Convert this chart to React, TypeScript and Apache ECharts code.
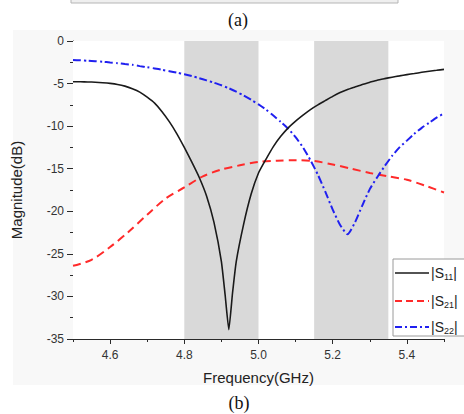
import React, { useEffect, useRef } from "react";
import * as echarts from "echarts";

// |S11| (black solid)
const s11Freq = [4.5, 4.52, 4.54, 4.56, 4.58, 4.6, 4.62, 4.64, 4.66, 4.68, 4.7, 4.72, 4.74, 4.76, 4.78, 4.8, 4.82, 4.84, 4.86, 4.88, 4.9, 4.91, 4.92, 4.93, 4.94, 4.96, 4.98, 5.0, 5.02, 5.04, 5.06, 5.08, 5.1, 5.12, 5.14, 5.16, 5.18, 5.2, 5.22, 5.24, 5.26, 5.28, 5.3, 5.32, 5.34, 5.36, 5.38, 5.4, 5.42, 5.44, 5.46, 5.48, 5.5];
const s11Mag = [-4.78, -4.79, -4.81, -4.84, -4.9, -4.98, -5.1, -5.3, -5.6, -6.0, -6.6, -7.3, -8.3, -9.5, -10.9, -12.5, -14.2, -16.0, -18.2, -21.3, -25.9, -29.8, -33.9, -29.6, -25.9, -21.5, -18.0, -15.5, -13.9, -12.4, -11.2, -10.2, -9.4, -8.7, -8.05, -7.5, -7.0, -6.5, -6.05, -5.7, -5.4, -5.1, -4.85, -4.6, -4.42, -4.25, -4.1, -3.95, -3.82, -3.68, -3.55, -3.44, -3.33];

// |S21| (red dashed)
const s21Freq = [4.5, 4.55, 4.6, 4.65, 4.7, 4.75, 4.8, 4.85, 4.9, 4.95, 5.0, 5.05, 5.1, 5.15, 5.2, 5.25, 5.3, 5.35, 5.4, 5.45, 5.5];
const s21Mag = [-26.4, -25.7, -24.2, -22.4, -20.4, -18.5, -17.2, -15.9, -15.1, -14.6, -14.2, -14.05, -14.0, -14.1, -14.5, -15.0, -15.5, -15.9, -16.3, -17.0, -17.8];

// |S22| (blue dash-dot)
const s22Freq = [4.5, 4.52, 4.54, 4.56, 4.58, 4.6, 4.62, 4.64, 4.66, 4.68, 4.7, 4.72, 4.74, 4.76, 4.78, 4.8, 4.82, 4.84, 4.86, 4.88, 4.9, 4.92, 4.94, 4.96, 4.98, 5.0, 5.02, 5.04, 5.06, 5.08, 5.1, 5.12, 5.14, 5.16, 5.18, 5.2, 5.22, 5.24, 5.26, 5.28, 5.3, 5.32, 5.34, 5.36, 5.38, 5.4, 5.42, 5.44, 5.46, 5.48, 5.5];
const s22Mag = [-2.23, -2.27, -2.32, -2.38, -2.44, -2.52, -2.6, -2.7, -2.8, -2.95, -3.08, -3.22, -3.38, -3.55, -3.72, -3.9, -4.12, -4.36, -4.62, -4.9, -5.2, -5.55, -5.95, -6.4, -6.9, -7.45, -8.05, -8.75, -9.5, -10.3, -11.3, -12.5, -14.0, -15.7, -17.7, -19.8, -21.6, -22.7, -21.3, -19.3, -17.4, -16.0, -14.7, -13.5, -12.5, -11.7, -10.9, -10.2, -9.6, -9.0, -8.5];

// shaded bands
const bandStarts = [4.8, 5.15];
const bandEnds = [5.0, 5.35];

// ticks
const xMajorTicks = [4.6, 4.8, 5.0, 5.2, 5.4];
const xMinorTicks = [4.5, 4.7, 4.9, 5.1, 5.3, 5.5];

const seriesNames = ["S11", "S21", "S22"];

const pairs = (xs: number[], ys: number[]) => xs.map((x, i) => [x, ys[i]]);

const AXIS_COLOR = "#2a2a2a";
const LABEL_COLOR = "#333";
const SANS = "'Liberation Sans', Arial, sans-serif";
const SERIF = "'Liberation Serif', 'Times New Roman', serif";

const legendRows = [
  { sub: "11", color: "#1a1a1a", dash: null as number[] | null, width: 1.6 },
  { sub: "21", color: "#ff2a2a", dash: [7, 4], width: 2 },
  { sub: "22", color: "#2020f0", dash: [7, 3, 2, 3], width: 2 },
];
const legendRowY = [273, 301, 327];

export default function App() {
  const ref = useRef<HTMLDivElement>(null);
  useEffect(() => {
    const chart = echarts.init(ref.current!, null, { renderer: "svg" });

    const legendElems: any[] = [
      {
        type: "rect",
        shape: { x: 393, y: 259, width: 72, height: 77 },
        style: { fill: "#fff", stroke: "#9a9a9a", lineWidth: 1 },
        z: 100,
      },
    ];
    legendRows.forEach((r, i) => {
      legendElems.push({
        type: "line",
        shape: { x1: 395, y1: legendRowY[i], x2: 429, y2: legendRowY[i] },
        style: { stroke: r.color, lineWidth: r.width, lineDash: r.dash || undefined },
        z: 101,
      });
      legendElems.push({
        type: "text",
        x: 431,
        y: legendRowY[i],
        style: {
          text: "{n||S}{s|" + r.sub + "}{n||}",
          verticalAlign: "middle",
          align: "left",
          rich: {
            n: { fontSize: 14, fontFamily: SANS, fill: "#222" },
            s: { fontSize: 9, fontFamily: SANS, fill: "#222", padding: [8, 0, 0, 0] },
          },
        },
        z: 101,
      });
    });

    const option: any = {
      animation: false,
      backgroundColor: "#fff",
      grid: {
        left: 73,
        right: 20,
        top: 41,
        bottom: 75,
        show: true,
        backgroundColor: "#fff",
        borderWidth: 0,
        z: 1,
      },
      graphic: [
        {
          type: "rect",
          shape: { x: 13, y: 30, width: 460, height: 355 },
          style: { fill: "#f8f8f8" },
          z: -10,
          silent: true,
        },
        {
          type: "rect",
          shape: { x: 71, y: -10, width: 327, height: 13 },
          style: { fill: "#efefef", stroke: "#b5b5b5", lineWidth: 1 },
          z: 5,
        },
        {
          type: "text",
          x: 238,
          y: 20,
          style: { text: "(a)", fontSize: 18, fontFamily: SERIF, fill: "#111", align: "center", verticalAlign: "middle" },
        },
        {
          type: "text",
          x: 239,
          y: 403,
          style: { text: "(b)", fontSize: 18, fontFamily: SERIF, fill: "#111", align: "center", verticalAlign: "middle" },
        },
        ...legendElems,
      ],
      xAxis: [
        {
          type: "value",
          min: 4.5,
          max: 5.5,
          name: "Frequency(GHz)",
          nameLocation: "middle",
          nameGap: 31,
          nameTextStyle: { fontSize: 15, fontFamily: SANS, color: "#222" },
          axisLine: { show: true, onZero: false, lineStyle: { color: AXIS_COLOR, width: 1 } },
          axisTick: { show: true, length: 5, customValues: xMajorTicks, lineStyle: { color: AXIS_COLOR } },
          axisLabel: {
            customValues: xMajorTicks,
            formatter: (v: number) => v.toFixed(1),
            fontSize: 12,
            fontFamily: SANS,
            color: LABEL_COLOR,
            margin: 10,
          },
          splitLine: { show: false },
        },
        {
          type: "value",
          min: 4.5,
          max: 5.5,
          position: "bottom",
          axisLine: { show: false, onZero: false },
          axisTick: { show: true, length: 3, customValues: xMinorTicks, lineStyle: { color: AXIS_COLOR } },
          axisLabel: { show: false },
          splitLine: { show: false },
        },
      ],
      yAxis: {
        type: "value",
        min: -35,
        max: 0,
        interval: 5,
        name: "Magnitude(dB)",
        nameLocation: "middle",
        nameGap: 49,
        nameTextStyle: { fontSize: 15, fontFamily: SANS, color: "#222" },
        axisLine: { show: true, onZero: false, lineStyle: { color: AXIS_COLOR, width: 1 } },
        axisTick: { show: true, length: 6, lineStyle: { color: AXIS_COLOR } },
        minorTick: { show: true, splitNumber: 2, length: 3, lineStyle: { color: AXIS_COLOR } },
        axisLabel: { fontSize: 12, fontFamily: SANS, color: LABEL_COLOR, margin: 9 },
        splitLine: { show: false },
      },
      series: [
        {
          type: "line",
          name: "bands",
          data: [],
          z: 2,
          silent: true,
          markArea: {
            silent: true,
            itemStyle: { color: "#d9d9d9" },
            data: bandStarts.map((s, i) => [{ xAxis: s }, { xAxis: bandEnds[i] }]),
          },
        },
        {
          type: "line",
          name: seriesNames[0],
          data: pairs(s11Freq, s11Mag),
          showSymbol: false,
          smooth: 0.15,
          z: 5,
          lineStyle: { color: "#1a1a1a", width: 1.6 },
        },
        {
          type: "line",
          name: seriesNames[1],
          data: pairs(s21Freq, s21Mag),
          showSymbol: false,
          smooth: 0.3,
          z: 4,
          lineStyle: { color: "#ff2a2a", width: 2, type: [8, 5] },
        },
        {
          type: "line",
          name: seriesNames[2],
          data: pairs(s22Freq, s22Mag),
          showSymbol: false,
          smooth: 0.2,
          z: 4,
          lineStyle: { color: "#2020f0", width: 2, type: [8, 3, 2, 3] },
        },
      ],
    };
    chart.setOption(option);
    return () => chart.dispose();
  }, []);
  return <div ref={ref} style={{ position: "fixed", left: 0, top: 0, width: 464, height: 414 }} />;
}
